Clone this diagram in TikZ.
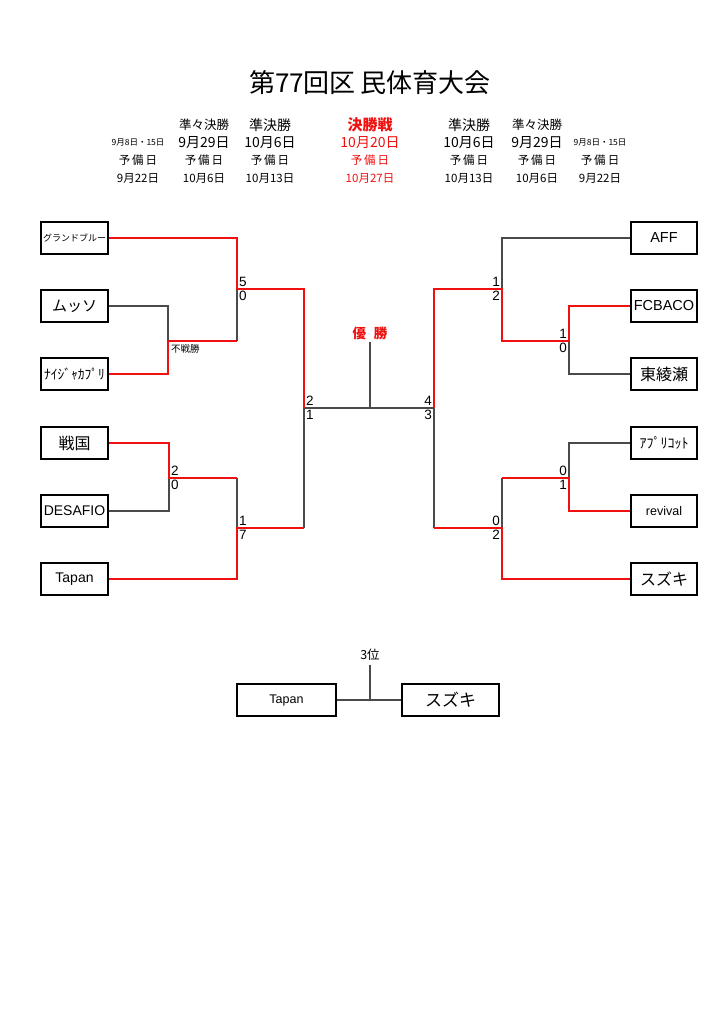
\documentclass[tikz,border=0pt]{standalone}
\usepackage{fontspec}
\setmainfont{Noto Sans CJK JP}
\newfontfamily\lat{Liberation Sans}
\definecolor{lineGray}{HTML}{4A4A4A}
\definecolor{winRed}{HTML}{F01010}
\begin{document}
\begin{tikzpicture}[x=1pt,y=-1pt,
  team/.style={draw=black, line width=2.2pt, minimum height=32pt, inner sep=0pt},
  lteam/.style={team, minimum width=67pt},
  rteam/.style={team, minimum width=66pt},
  win/.style={draw=winRed, line width=2.2pt, line join=miter},
  lose/.style={draw=lineGray, line width=1.1pt},
  sc/.style={font=\lat\fontsize{13.5}{13.5}\selectfont, inner sep=2pt},
  hd/.style={inner sep=0pt, anchor=center},
  fs/.style={font=\fontsize{#1}{#1}\selectfont},
  fl/.style={font=\lat\fontsize{#1}{#1}\selectfont}
]
\useasboundingbox (0,0) rectangle (724,1024);

% title and header
\node[hd, fs=26] (title) at (370,83) {第77回区\hspace{5pt}民体育大会};

\node[hd, fs=12.5] (h02) at (204,125) {準々決勝};
\node[hd, fs=14] (h03) at (270,125) {準決勝};
\node[hd, fs=15, text=winRed] (h04) at (370,125) {\bfseries 決勝戦};
\node[hd, fs=14] (h05) at (469,125) {準決勝};
\node[hd, fs=12.5] (h06) at (537,125) {準々決勝};

\node[hd, fs=8.5] (h11) at (138,143) {9月8日・15日};
\node[hd, fs=14] (h12) at (204,143) {9月29日};
\node[hd, fs=14] (h13) at (270,143) {10月6日};
\node[hd, fs=14, text=winRed] (h14) at (370,143) {10月20日};
\node[hd, fs=14] (h15) at (469,143) {10月6日};
\node[hd, fs=14] (h16) at (537,143) {9月29日};
\node[hd, fs=8.5] (h17) at (600,143) {9月8日・15日};

\foreach \c/\x in {1/138,2/204,3/270,5/469,6/537,7/600}
  \node[hd, fs=11.5] (h2\c) at (\x,160) {予\hspace{2pt}備\hspace{2pt}日};
\node[hd, fs=11.5, text=winRed] (h24) at (370,160) {予\hspace{2pt}備\hspace{2pt}日};

\node[hd, fs=11.5] (h31) at (138,178) {9月22日};
\node[hd, fs=11.5] (h32) at (204,178) {10月6日};
\node[hd, fs=11.5] (h33) at (270,178) {10月13日};
\node[hd, fs=11.5, text=winRed] (h34) at (370,178) {10月27日};
\node[hd, fs=11.5] (h35) at (469,178) {10月13日};
\node[hd, fs=11.5] (h36) at (537,178) {10月6日};
\node[hd, fs=11.5] (h37) at (600,178) {9月22日};

% left teams
\node[lteam, fs=9]  (L1) at (74.5,238) {グランドブルー};
\node[lteam, fs=15] (L2) at (74.5,306) {ムッソ};
\node[lteam, fs=13.5] (L3) at (74.5,374) {ﾅｲｼﾞｬｶﾌﾟﾘ};
\node[lteam, fs=16] (L4) at (74.5,443) {戦国};
\node[lteam, fl=14] (L5) at (74.5,511) {DESAFIO};
\node[lteam, fl=14] (L6) at (74.5,579) {Tapan};

% right teams
\node[rteam, fl=14.5] (R1) at (664,238) {AFF};
\node[rteam, fl=14.5] (R2) at (664,306) {FCBACO};
\node[rteam, fs=16] (R3) at (664,374) {東綾瀬};
\node[rteam, fs=14] (R4) at (664,443) {ｱﾌﾟﾘｺｯﾄ};
\node[rteam, fl=12.5] (R5) at (664,511) {revival};
\node[rteam, fs=16] (R6) at (664,579) {スズキ};

% junction coordinates
\coordinate (a1) at (168,341);
\coordinate (a1r) at (237,341);
\coordinate (a2) at (237,289);
\coordinate (a3) at (169,478);
\coordinate (a4t) at (237,478);
\coordinate (a4) at (237,528);
\coordinate (a5b) at (304,528);
\coordinate (a5) at (304,408);
\coordinate (c) at (370,408);
\coordinate (ctop) at (370,342);
\coordinate (b5) at (434,408);
\coordinate (b5b) at (434,528);
\coordinate (b4) at (502,528);
\coordinate (b4t) at (502,478);
\coordinate (b3) at (569,478);
\coordinate (b2) at (502,289);
\coordinate (b1) at (569,341);

% gray (losing) lines
\draw[lose] (L2.east) -| (a1);
\draw[lose] (a2) -- (a1r);
\draw[lose] (L5.east) -| (a3);
\draw[lose] (a4t) -- (a4);
\draw[lose] (a5b) -- (a5);
\draw[lose] (a5) -- (b5);
\draw[lose] (ctop) -- (c);
\draw[lose] (R1.west) -| (b2);
\draw[lose] (R3.west) -| (b1);
\draw[lose] (R4.west) -| (b3);
\draw[lose] (b4t) -- (b4);
\draw[lose] (b5b) -- (b5);

% red (winning) lines
\draw[win] (L1.east) -| (a2) -| (a5);
\draw[win] (L3.east) -| (a1) -- (a1r);
\draw[win] (L4.east) -| (a3) -- (a4t);
\draw[win] (L6.east) -| (a4) -- (a5b);
\draw[win] (R2.west) -| (b1) -| (b2) -| (b5);
\draw[win] (R5.west) -| (b3) -- (b4t);
\draw[win] (R6.west) -| (b4) -- (b5b);

% scores left
\node[sc, anchor=south west] (s1) at (a2) {5};
\node[sc, anchor=north west] (s2) at (a2) {0};
\node[anchor=north west, inner sep=0pt, fs=9.5] (fsen) at ([xshift=3pt,yshift=-3.5pt]a1) {不戦勝};
\node[sc, anchor=south west] (s3) at (a3) {2};
\node[sc, anchor=north west] (s4) at (a3) {0};
\node[sc, anchor=south west] (s5) at (a4) {1};
\node[sc, anchor=north west] (s6) at (a4) {7};
\node[sc, anchor=south west] (s7) at (a5) {2};
\node[sc, anchor=north west] (s8) at (a5) {1};
% scores right
\node[sc, anchor=south east] (s9) at (b5) {4};
\node[sc, anchor=north east] (s10) at (b5) {3};
\node[sc, anchor=south east] (s11) at (b2) {1};
\node[sc, anchor=north east] (s12) at (b2) {2};
\node[sc, anchor=south east] (s13) at (b1) {1};
\node[sc, anchor=north east] (s14) at (b1) {0};
\node[sc, anchor=south east] (s15) at (b3) {0};
\node[sc, anchor=north east] (s16) at (b3) {1};
\node[sc, anchor=south east] (s17) at (b4) {0};
\node[sc, anchor=north east] (s18) at (b4) {2};

% champion label
\node[hd, fs=13.5, text=winRed] (yusho) at (370,333) {\bfseries 優\hspace{8pt}勝};

% third place
\node[hd, fs=12.5] (third) at (370,655) {3位};
\node[team, minimum width=99pt, fl=12.5] (T1) at (286.5,700) {Tapan};
\node[team, minimum width=97pt, fs=17] (T2) at (450.5,700) {スズキ};
\coordinate (t) at (370,700);
\coordinate (ttop) at (370,665);
\draw[lose] (T1.east) -- (T2.west);
\draw[lose] (ttop) -- (t);
\end{tikzpicture}
\end{document}
